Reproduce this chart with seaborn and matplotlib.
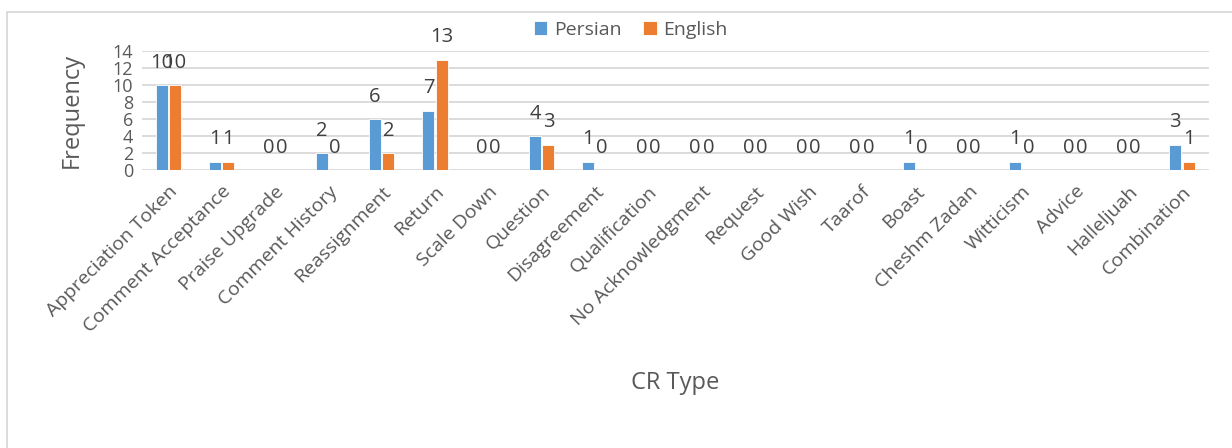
import pandas as pd
import matplotlib.pyplot as plt
import seaborn as sns
from matplotlib.patches import Rectangle

# 데이터
CATEGORIES = ['Appreciation Token', 'Comment Acceptance', 'Praise Upgrade', 'Comment History',
              'Reassignment', 'Return', 'Scale Down', 'Question', 'Disagreement', 'Qualification',
              'No Acknowledgment', 'Request', 'Good Wish', 'Taarof', 'Boast', 'Cheshm Zadan',
              'Witticism', 'Advice', 'Halleljuah', 'Combination']
PERSIAN = [10, 1, 0, 2, 6, 7, 0, 4, 1, 0, 0, 0, 0, 0, 1, 0, 1, 0, 0, 3]
ENGLISH = [10, 1, 0, 0, 2, 13, 0, 3, 0, 0, 0, 0, 0, 0, 0, 0, 0, 0, 0, 1]
Y_TICKS = [0, 2, 4, 6, 8, 10, 12, 14]

TEXT = '#595959'
GRID = '#D9D9D9'

sns.set_style('white')
plt.rcParams['font.family'] = ['Open Sans', 'DejaVu Sans']

df = pd.DataFrame({
    'CR Type': CATEGORIES * 2,
    'Frequency': PERSIAN + ENGLISH,
    'Language': ['Persian'] * len(CATEGORIES) + ['English'] * len(CATEGORIES),
})

fig, ax = plt.subplots(figsize=(12.32, 4.48), dpi=100)
fig.subplots_adjust(left=0.115, right=0.981, bottom=0.6205, top=0.886)

sns.barplot(data=df, x='CR Type', y='Frequency', hue='Language', order=CATEGORIES,
            palette={'Persian': '#5B9BD5', 'English': '#ED7D31'}, saturation=1,
            width=0.5, gap=0.1, edgecolor='white', linewidth=0.6, ax=ax, zorder=3)

# 막대 위 값 표시
for c in ax.containers:
    ax.bar_label(c, fmt='%g', padding=9, fontsize=14.5, color='#404040')

ax.set_ylim(0, 14)
ax.set_yticks(Y_TICKS)
ax.yaxis.grid(True, color=GRID, linewidth=1.3, zorder=0)
ax.set_axisbelow(True)
for s in ax.spines.values():
    s.set_visible(False)
ax.tick_params(length=0, colors=TEXT)
ax.tick_params(axis='y', labelsize=13, pad=6)
ax.tick_params(axis='x', labelsize=14, pad=9)
plt.setp(ax.get_xticklabels(), rotation=45, ha='right', rotation_mode='anchor')

ax.set_ylabel('Frequency', fontsize=17, color=TEXT)
ax.yaxis.set_label_coords(-0.054, 0.5)
ax.set_xlabel('CR Type', fontsize=17, color=TEXT)
ax.xaxis.set_label_coords(0.5, -1.69)

handles, labels = ax.get_legend_handles_labels()
ax.legend(handles, labels, loc='center', bbox_to_anchor=(0.512, 0.933),
          bbox_transform=fig.transFigure, ncol=2, frameon=False, fontsize=14,
          labelcolor=TEXT, handlelength=0.7, handleheight=0.7,
          handletextpad=0.35, columnspacing=1.1)

# 차트 테두리
fig.patches.append(Rectangle((7 / 1232, -0.1), 1.2, 1 - 12 / 448 + 0.1,
                             transform=fig.transFigure, fill=False,
                             edgecolor=GRID, linewidth=1.3))

plt.savefig('out.png', dpi=100)
